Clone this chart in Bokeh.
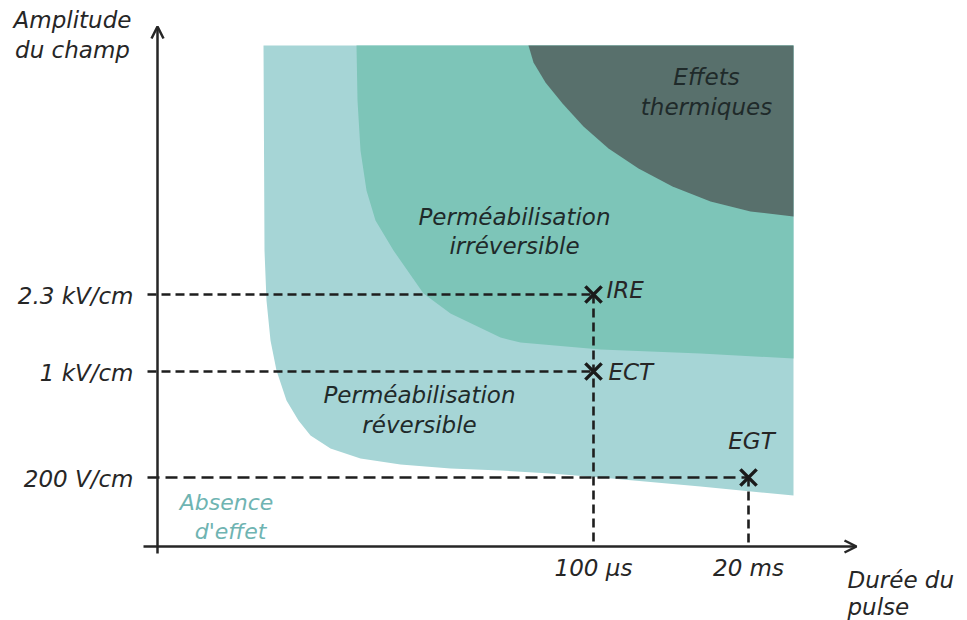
from bokeh.plotting import figure
from bokeh.models import Range1d, Arrow, OpenHead
from bokeh.core.properties import value
from bokeh.embed import file_html
from bokeh.resources import INLINE

# ---- diagram data (schematic coordinates, y grows downward) ----
rev_x = [263, 264, 266, 270, 276, 286, 298, 310, 330, 360, 400, 450, 500, 550, 600, 700, 793, 793]
rev_y = [45, 250, 300, 340, 370, 400, 420, 435, 448, 458, 464, 468, 470, 473, 477, 486, 495, 45]

irr_x = [356, 357, 360, 366, 375, 393, 423, 450, 500, 520, 600, 700, 793, 793]
irr_y = [45, 100, 150, 190, 220, 250, 293, 313, 337, 342, 349, 353, 358, 45]

th_x = [528, 533, 545, 562, 583, 608, 638, 672, 710, 750, 793, 793]
th_y = [45, 62, 82, 103, 126, 148, 168, 186, 201, 211, 216, 45]

level_labels = ["2.3 kV/cm", "1 kV/cm", "200 V/cm"]
level_y = [294, 371, 477]
level_xend = [593, 593, 748]

time_labels = ["100 µs", "20 ms"]
time_x = [593, 748]

pt_names = ["IRE", "ECT", "EGT"]
pt_x = [593, 593, 748]
pt_y = [294, 371, 477]

region_lines = ["Effets", "thermiques", "Perméabilisation", "irréversible",
                "Perméabilisation", "réversible"]
region_x = [706, 706, 514, 514, 419, 419]
region_y = [76, 106, 216, 245, 394, 424]

absence_lines = ["Absence", "d'effet"]
absence_x = [226, 230]
absence_y = [502, 531]

ORIGIN_X, ORIGIN_Y = 157, 546
AXIS_X_END, AXIS_Y_END = 856, 26

FONT = value("DejaVu Sans")
INK = "#262626"

p = figure(width=959, height=620, output_backend="svg", toolbar_location=None,
           x_range=Range1d(0, 959), y_range=Range1d(620, 0),
           x_axis_location=None, y_axis_location=None, min_border=0)
p.grid.visible = False
p.outline_line_color = None
p.background_fill_color = "white"

# regions
p.patch(rev_x, rev_y, fill_color="#a6d5d6", line_color=None)
p.patch(irr_x, irr_y, fill_color="#7dc5b8", line_color=None)
p.patch(th_x, th_y, fill_color="#58706c", line_color=None)

# dashed reference lines
for yv, xe in zip(level_y, level_xend):
    dash = "12 6" if xe > 700 else "9 5"
    p.line([147, xe], [yv, yv], line_color="#1e1e1e", line_width=2.6, line_dash=dash)
for xv, yv in zip(time_x, [level_y[0], level_y[2]]):
    p.line([xv, xv], [yv, ORIGIN_Y], line_color="#1e1e1e", line_width=2.6, line_dash="9 5")

# axes
p.add_layout(Arrow(end=OpenHead(size=12, line_width=2.5, line_color=INK),
                   x_start=ORIGIN_X, y_start=553, x_end=ORIGIN_X, y_end=AXIS_Y_END,
                   line_width=2.5, line_color=INK))
p.add_layout(Arrow(end=OpenHead(size=12, line_width=2.5, line_color=INK),
                   x_start=143, y_start=ORIGIN_Y, x_end=AXIS_X_END, y_end=ORIGIN_Y,
                   line_width=2.5, line_color=INK))

# markers
p.scatter(pt_x, pt_y, marker="x", size=23, line_width=3.5, line_color="#1a1a1a")

common = dict(text_font=FONT, text_font_style="italic", text_baseline="middle")

# y level labels
p.text([133] * 3, [yv + 1 for yv in level_y], text=level_labels, text_align="right",
       text_font_size="23px", text_color=INK, **common)
# time labels
p.text(time_x, [567, 567], text=time_labels, text_align="center",
       text_font_size="23px", text_color=INK, **common)
# point names
p.text([606, 608], [289, 371], text=pt_names[:2], text_align="left",
       text_font_size="23px", text_color=INK, **common)
p.text([751], [440], text=pt_names[2:], text_align="center",
       text_font_size="23px", text_color=INK, **common)
# axis titles
p.text([72, 72], [19, 49], text=["Amplitude", "du champ"], text_align="center",
       text_font_size="23px", text_color=INK, **common)
p.text([847, 847], [579, 606], text=["Durée du", "pulse"], text_align="left",
       text_font_size="23px", text_color=INK, **common)
# region labels
p.text(region_x, region_y, text=region_lines, text_align="center",
       text_font_size="23px", text_color="#1f2a2a", **common)
p.text(absence_x, absence_y, text=absence_lines, text_align="center",
       text_font_size="22px", text_color="#6fb4b2", **common)

open("out.html", "w").write(file_html(p, INLINE))
